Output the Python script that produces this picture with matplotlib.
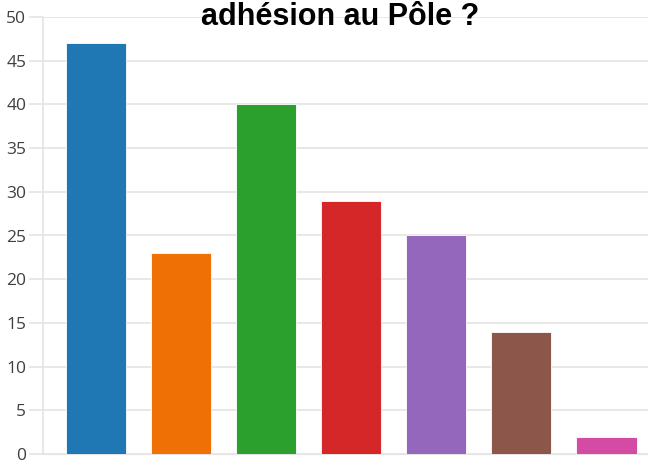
import matplotlib.pyplot as plt
import numpy as np

values = [47, 23, 40, 29, 25, 14, 2]
colors = ['#1f77b4', '#ef7106', '#2ca02c', '#d62728', '#9467bd', '#8c564b', '#d44ba6']
yticks = [0, 5, 10, 15, 20, 25, 30, 35, 40, 45, 50]
title = 'adhésion au Pôle ?'

fig = plt.figure(figsize=(6.48, 4.61), dpi=100)
ax = fig.add_axes([43/648, 1-454/461, 1-43/648, (454-17)/461])

x = np.arange(len(values))
ax.bar(x, values, width=0.71, color=colors, edgecolor='white', linewidth=0.6, zorder=3)

ax.set_xlim(-0.62, 6.49)
ax.set_ylim(0, 50)
ax.set_yticks(yticks)
ax.set_xticks([])
ax.yaxis.grid(True, color='#e4e4e4', linewidth=1.2, zorder=0)
ax.tick_params(axis='y', length=10, color='#e4e4e4', width=1.2, pad=2,
               labelsize=12.5, labelcolor='#404040')
for s in ['top', 'right']:
    ax.spines[s].set_visible(False)
ax.spines['left'].set_color('#e4e4e4')
ax.spines['bottom'].set_color('#e4e4e4')
ax.spines['left'].set_linewidth(1.2)
for lab in ax.get_yticklabels():
    lab.set_fontfamily('Open Sans')

fig.text(340/648, 1-25/461, title, ha='center', va='baseline',
         fontsize=22, fontweight='bold', family='Liberation Sans')

plt.savefig('out.png', dpi=100)
